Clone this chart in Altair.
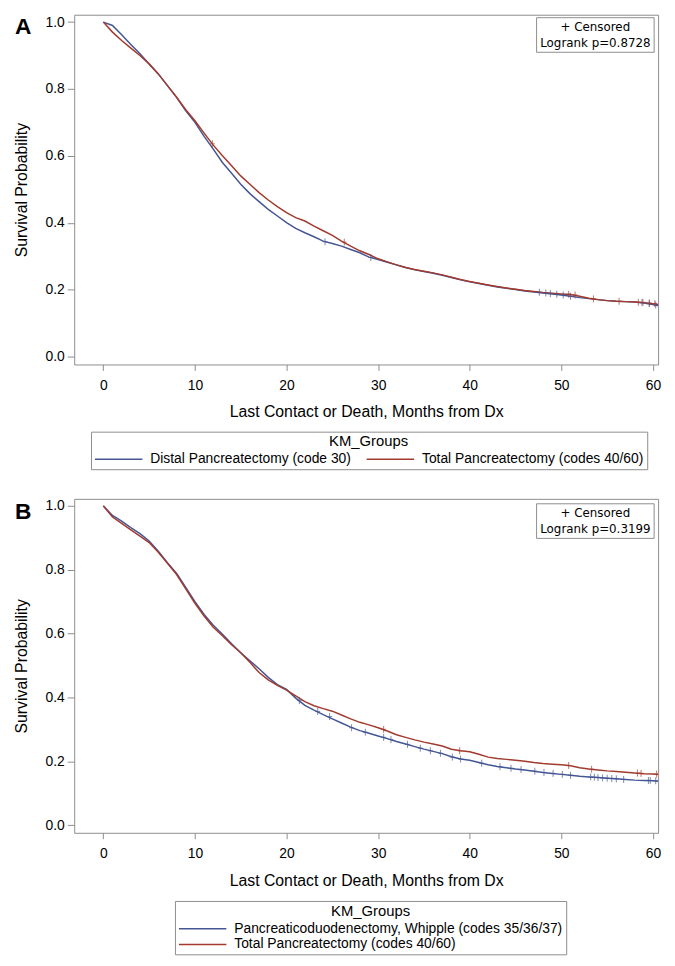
import altair as alt
import pandas as pd

months = list(range(61)) + [61]

# Panel A
a_names = ["Distal Pancreatectomy (code 30)", "Total Pancreatectomy (codes 40/60)"]
a_distal = [1.0, 0.99, 0.962, 0.933, 0.905, 0.875, 0.845, 0.81, 0.775, 0.735,
            0.70, 0.658, 0.62, 0.58, 0.548, 0.515, 0.487, 0.463, 0.44, 0.42,
            0.40, 0.383, 0.37, 0.358, 0.345, 0.338, 0.33, 0.32, 0.31, 0.297,
            0.29, 0.282, 0.274, 0.266, 0.259, 0.254, 0.249, 0.243, 0.236, 0.229,
            0.223, 0.218, 0.213, 0.208, 0.204, 0.2, 0.196, 0.193, 0.19, 0.187,
            0.184, 0.18, 0.176, 0.173, 0.17, 0.167, 0.165, 0.164, 0.163, 0.16,
            0.155, 0.15]
a_total = [1.0, 0.97, 0.945, 0.922, 0.9, 0.875, 0.845, 0.81, 0.775, 0.738,
           0.705, 0.668, 0.632, 0.6, 0.57, 0.54, 0.515, 0.49, 0.468, 0.448,
           0.43, 0.415, 0.405, 0.39, 0.376, 0.362, 0.345, 0.33, 0.316, 0.305,
           0.292, 0.283, 0.274, 0.266, 0.26, 0.255, 0.25, 0.244, 0.237, 0.23,
           0.224, 0.219, 0.214, 0.209, 0.205, 0.201, 0.197, 0.194, 0.191, 0.189,
           0.187, 0.185, 0.18, 0.174, 0.17, 0.167, 0.165, 0.164, 0.163, 0.161,
           0.158, 0.153]
a_cens_distal_t = [24.2, 29.2, 47.6, 48.3, 48.8, 49.5, 50.2, 51.0, 58.8, 59.6, 60.3]
a_cens_distal_s = [0.343, 0.296, 0.192, 0.19, 0.188, 0.186, 0.184, 0.18, 0.161, 0.158, 0.154]
a_cens_total_t = [11.9, 26.3, 50.8, 51.5, 53.5, 56.3, 58.4, 58.9, 59.6, 60.2]
a_cens_total_s = [0.636, 0.342, 0.186, 0.184, 0.172, 0.165, 0.162, 0.162, 0.16, 0.158]

# Panel B
b_names = ["Pancreaticoduodenectomy, Whipple (codes 35/36/37)", "Total Pancreatectomy (codes 40/60)"]
b_whipple = [1.0, 0.97, 0.952, 0.932, 0.913, 0.89, 0.858, 0.822, 0.788, 0.745,
             0.70, 0.66, 0.626, 0.598, 0.568, 0.54, 0.515, 0.49, 0.463, 0.44,
             0.425, 0.398, 0.375, 0.36, 0.346, 0.333, 0.32, 0.307, 0.296, 0.288,
             0.279, 0.271, 0.262, 0.254, 0.246, 0.238, 0.231, 0.224, 0.214, 0.207,
             0.203, 0.196, 0.189, 0.184, 0.18, 0.176, 0.173, 0.169, 0.165, 0.162,
             0.159, 0.156, 0.153, 0.151, 0.149, 0.147, 0.145, 0.143, 0.141, 0.14,
             0.139, 0.137]
b_total = [1.0, 0.965, 0.945, 0.925, 0.905, 0.885, 0.855, 0.82, 0.785, 0.74,
           0.695, 0.655, 0.62, 0.593, 0.565, 0.54, 0.51, 0.478, 0.455, 0.438,
           0.423, 0.405, 0.387, 0.374, 0.365, 0.357, 0.345, 0.333, 0.322, 0.314,
           0.305, 0.295, 0.283, 0.275, 0.267, 0.26, 0.254, 0.248, 0.238, 0.233,
           0.23, 0.222, 0.213, 0.209, 0.206, 0.203, 0.2, 0.196, 0.193, 0.191,
           0.189, 0.186, 0.18, 0.176, 0.173, 0.17, 0.168, 0.166, 0.163, 0.161,
           0.16, 0.158]
b_cens_whipple_t = [21.4, 23.4, 24.7, 27.1, 28.6, 30.6, 31.4, 33.2, 34.6, 35.7, 36.8, 38.1, 39.0,
                    41.3, 43.3, 44.5, 45.6, 47.1, 48.1, 49.1, 50.1, 51.0, 53.2, 53.6, 54.0,
                    54.5, 55.0, 55.5, 56.0, 56.8, 59.5, 59.7, 60.3]
b_cens_whipple_s = [0.39, 0.356, 0.34, 0.305, 0.291, 0.275, 0.268, 0.253, 0.241, 0.233, 0.225, 0.213, 0.207,
                    0.194, 0.183, 0.178, 0.174, 0.169, 0.165, 0.162, 0.159, 0.156, 0.151, 0.15, 0.149,
                    0.148, 0.147, 0.146, 0.145, 0.143, 0.14, 0.14, 0.139]
b_cens_total_t = [30.6, 38.9, 50.8, 53.3, 58.3, 58.7, 60.4]
b_cens_total_s = [0.3, 0.233, 0.187, 0.175, 0.163, 0.162, 0.16]

x_ticks = [0, 10, 20, 30, 40, 50, 60]
y_ticks = [0.0, 0.2, 0.4, 0.6, 0.8, 1.0]
colors = ["#445694", "#A23A2E"]
FONT = "Liberation Sans"
PLUS = "M0,-1L0,1M-0.7,0L0.7,0"
LEGEND_LINE = "M-1,0L5,0"
W = 591


def panel(letter, pval, names, s1, s2, c1t, c1s, c2t, c2s, height, lx, ly, columns, box_y, letter_y):
    n = len(months)
    df = pd.DataFrame({
        "t": months + months,
        "s": s1 + s2,
        "g": [names[0]] * n + [names[1]] * n,
    })
    cdf = pd.DataFrame({
        "t": c1t + c2t,
        "s": c1s + c2s,
        "g": [names[0]] * len(c1t) + [names[1]] * len(c2t),
    })
    xs = alt.Scale(domain=[-3.18, 60.56], nice=False, zero=False)
    ys = alt.Scale(domain=[-0.024, 1.022], nice=False, zero=False)
    xax = alt.Axis(values=x_ticks, title="Last Contact or Death, Months from Dx", format="d")
    yax = alt.Axis(values=y_ticks, title="Survival Probability", format=".1f")
    line = alt.Chart(df).mark_line(strokeWidth=1.5, clip=True).encode(
        x=alt.X("t:Q", scale=xs, axis=xax),
        y=alt.Y("s:Q", scale=ys, axis=yax),
        color=alt.Color("g:N", scale=alt.Scale(domain=names, range=colors),
                        legend=alt.Legend(
                            title="KM_Groups", orient="none", legendX=lx, legendY=ly,
                            direction="horizontal" if columns == 2 else "vertical",
                            columns=columns, titleAnchor="middle",
                            symbolType=LEGEND_LINE, symbolSize=256, symbolStrokeWidth=1.5,
                            labelLimit=1000, labelOffset=39, columnPadding=12,
                            rowPadding=0, titlePadding=1, padding=3,
                            strokeColor="#8c8c8c")),
    )
    cens = alt.Chart(cdf).mark_point(shape=PLUS, filled=False, size=50, strokeWidth=1, clip=True).encode(
        x=alt.X("t:Q", scale=xs),
        y=alt.Y("s:Q", scale=ys),
        stroke=alt.Stroke("g:N", scale=alt.Scale(domain=names, range=colors), legend=None),
    )
    one = pd.DataFrame({"k": [0]})
    lab = alt.Chart(one).mark_text(text=letter, fontSize=23, fontWeight="bold", font=FONT,
                                   align="left", baseline="top", color="black").encode(
        x=alt.value(-60), y=alt.value(letter_y))
    bx = W - 123
    box = alt.Chart(one).mark_rect(fill="white", stroke="#8c8c8c", strokeWidth=1).encode(
        x=alt.value(bx), x2=alt.value(bx + 119), y=alt.value(box_y), y2=alt.value(box_y + 35))
    t1 = alt.Chart(one).mark_text(text="+ Censored", font="DejaVu Sans", fontSize=12,
                                  align="center", baseline="middle", color="black").encode(
        x=alt.value(bx + 59.5), y=alt.value(box_y + 9.5))
    t2 = alt.Chart(one).mark_text(text="Logrank p=" + pval, font="DejaVu Sans", fontSize=12,
                                  align="center", baseline="middle", color="black").encode(
        x=alt.value(bx + 59.5), y=alt.value(box_y + 26))
    return alt.layer(line, cens, box, t1, t2, lab).properties(width=W, height=height)


pa = panel("A", "0.8728", a_names, a_distal, a_total,
           a_cens_distal_t, a_cens_distal_s, a_cens_total_t, a_cens_total_s,
           354, 17, 422, 2, 3, 1)
pb = panel("B", "0.3199", b_names, b_whipple, b_total,
           b_cens_whipple_t, b_cens_whipple_s, b_cens_total_t, b_cens_total_s,
           338, 102, 407, 1, 5, 2)

chart = alt.vconcat(pa, pb, spacing=28).resolve_scale(
    color="independent", stroke="independent", x="independent", y="independent"
).resolve_legend(color="independent").configure_view(
    stroke="#8c8c8c", strokeWidth=1
).configure_axis(
    grid=False, domain=False, labelFont=FONT, titleFont=FONT, labelFontSize=14,
    titleFontSize=16, titleFontWeight="normal", labelColor="black", titleColor="black",
    tickColor="#8c8c8c"
).configure_axisY(
    tickSize=7, labelPadding=3, titlePadding=16
).configure_axisX(
    tickSize=6, labelPadding=8, titlePadding=12
).configure_legend(
    labelFont=FONT, titleFont=FONT, labelFontSize=14, titleFontSize=15,
    titleFontWeight="normal", labelColor="black", titleColor="black"
).properties(background="white", padding={"top": 0, "left": 5, "right": 5, "bottom": 5})

chart.save("out.html", embed_options={"renderer": "svg", "actions": False})
